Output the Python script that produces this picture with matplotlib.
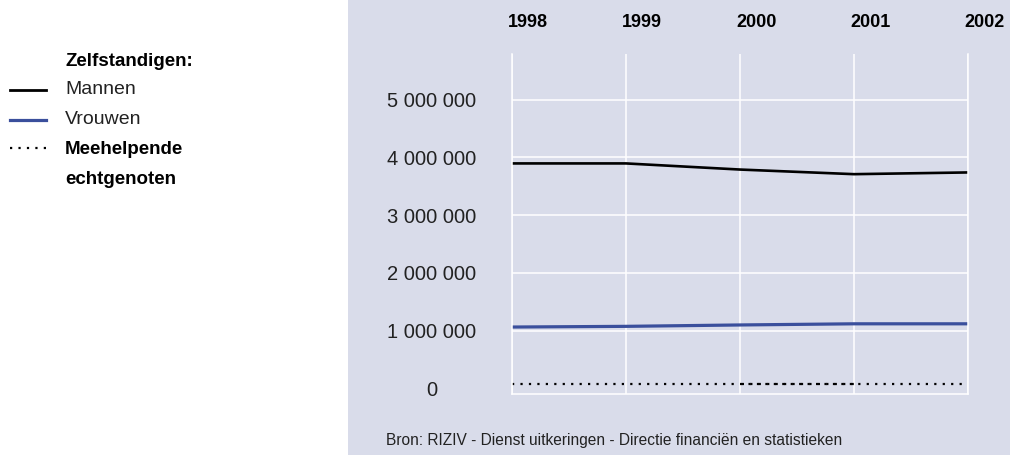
import numpy as np
import matplotlib
matplotlib.use("Agg")
import matplotlib.pyplot as plt
from matplotlib.lines import Line2D
from matplotlib.patches import Rectangle
from matplotlib.transforms import offset_copy

plt.rcParams["font.family"] = ["Liberation Sans", "DejaVu Sans"]

years = [1998, 1999, 2000, 2001, 2002]
mannen = [3896000, 3896000, 3790000, 3710000, 3740000]
vrouwen = [1064000, 1076000, 1100000, 1120000, 1120000]
meehelpende = [78000, 78000, 78000, 78000, 78000]
y_ticks = [0, 1000000, 2000000, 3000000, 4000000, 5000000]

legend_title = "Zelfstandigen:"
series_names = ["Mannen", "Vrouwen", "Meehelpende\nechtgenoten"]
source = "Bron: RIZIV - Dienst uitkeringen - Directie financiën en statistieken"

BG = "#d9dcea"
BLUE = "#3a4f9c"
DOTS = (0, (1, 2.8))

W, H = 1010, 455
fig = plt.figure(figsize=(W / 100, H / 100), dpi=100)
fig.patches.append(Rectangle((348 / W, 0), 1 - 348 / W, 1, transform=fig.transFigure,
                             facecolor=BG, edgecolor="none", zorder=-10))

ax = fig.add_axes([512 / W, (H - 394) / H, 456 / W, 340 / H])
ax.set_zorder(1)
ax.set_facecolor("none")

ax.plot(years, mannen, color="black", lw=1.9, solid_joinstyle="round")
ax.plot(years, vrouwen, color=BLUE, lw=2.3)
ax.plot(years, meehelpende, color="black", lw=1.6, linestyle=DOTS)
# the 2000-2001 stretch is drawn twice in the original, so the dots look denser there
ax.plot(years[2:4], meehelpende[2:4], color="black", lw=1.6, linestyle=(3, (1, 2.8)))

ax.set_xlim(1998, 2002)
ax.set_ylim(-95000, 5790000)
ax.set_xticks(years)
ax.set_xticklabels([str(y) for y in years], fontweight="bold", fontsize=13)
ax.xaxis.tick_top()
ax.tick_params(axis="x", length=0, pad=16.5)
for lbl in ax.get_xticklabels():
    lbl.set_horizontalalignment("left")
    lbl.set_transform(offset_copy(lbl.get_transform(), fig=fig, x=-4, units="dots"))

ax.set_yticks(y_ticks)
ax.set_yticklabels([f"{v:,}".replace(",", " ") for v in y_ticks], fontsize=14.5, color="#222222")
ax.tick_params(axis="y", length=0, pad=58)
for lbl in ax.get_yticklabels():
    lbl.set_horizontalalignment("center")

ax.grid(True, color="white", lw=1.1)
ax.yaxis.get_gridlines()[0].set_visible(False)
for side in ["left", "right", "bottom"]:
    ax.spines[side].set_color("white")
    ax.spines[side].set_linewidth(1.1)
ax.spines["top"].set_visible(False)
ax.set_axisbelow(True)

# legend, drawn by hand
fig.text(65 / W, 1 - 61 / H, legend_title, fontsize=13.5, fontweight="bold", va="center")
styles = [dict(color="black", lw=2.0),
          dict(color=BLUE, lw=2.3),
          dict(color="black", lw=1.6, linestyle=DOTS)]
rows = [90, 120, 148]
for name, st, yy in zip(series_names, styles, rows):
    fig.add_artist(Line2D([10 / W, 46 / W], [1 - yy / H, 1 - yy / H], **st))
    if "\n" in name:
        fig.text(65 / W, 1 - (yy - 7) / H, name, fontsize=13.5, va="top",
                 fontweight="bold", linespacing=2.0, color="black")
    else:
        fig.text(65 / W, 1 - yy / H, name, fontsize=14, va="center", color="#222222")

fig.text(386 / W, 1 - 441 / H, source, fontsize=11.2, va="center", color="#222222")

fig.savefig("out.png", dpi=100)
